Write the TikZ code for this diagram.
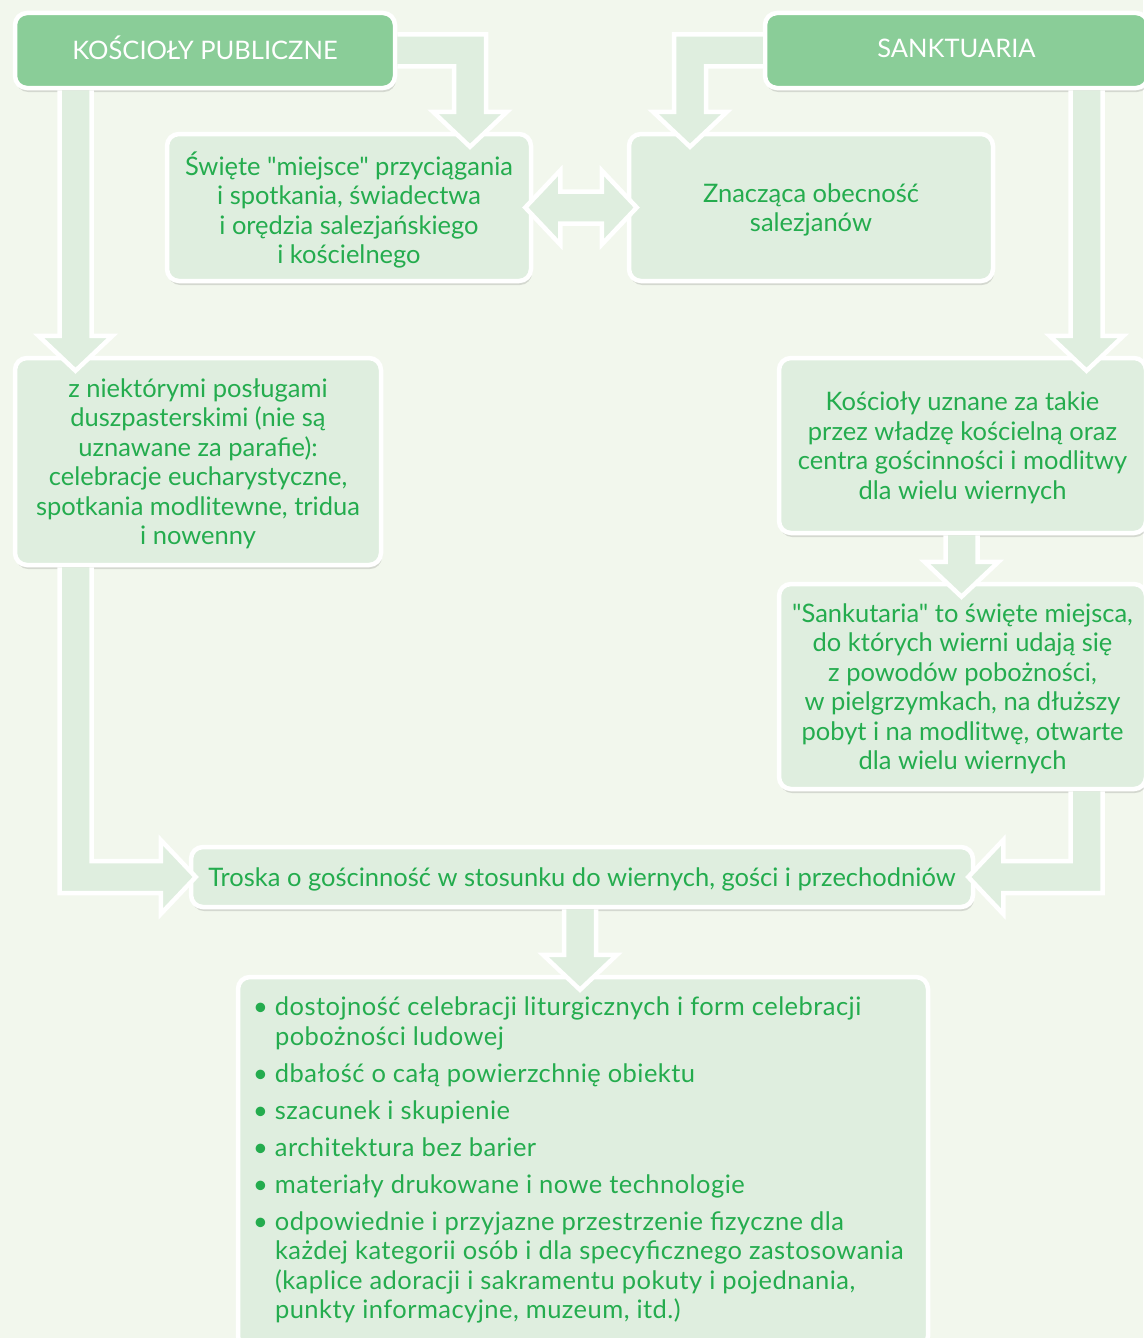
\documentclass[tikz,border=0pt]{standalone}
\usepackage{fontspec}
\setmainfont{Lato}[Ligatures=TeXOff]
\usetikzlibrary{calc,shadows}

\definecolor{bggreen}{RGB}{242,247,237}
\definecolor{boxgreen}{RGB}{223,238,223}
\definecolor{headgreen}{RGB}{138,205,152}
\definecolor{textgreen}{RGB}{36,172,78}

% bullet of the list
\newcommand{\li}{\makebox[16pt][l]{\hspace*{-6pt}\textbullet}}

\begin{document}
\begin{tikzpicture}
[x=1pt,y=-1pt,
  every node/.style={font=\fontsize{25.5}{29.5}\selectfont},
  plain box/.style={rectangle,rounded corners=12pt,draw=white,line width=4.5pt,fill=boxgreen,
    text=textgreen,align=center,inner sep=0pt,
    drop shadow={opacity=0.12,shadow xshift=1pt,shadow yshift=-4pt,fill=black}},
  box node/.style={plain box,text depth=-4pt},
  head node/.style={plain box,fill=headgreen,text=white,text depth=5pt},
  list node/.style={plain box,align=left,text depth=9pt,
    font=\fontsize{25.5}{29.5}\selectfont\addfontfeature{LetterSpace=1.8}},
  block arrow/.style={fill=boxgreen,draw=white,line width=4.5pt,line join=miter}]

  \path[use as bounding box,fill=bggreen] (0,0) rectangle (1143,1338);

  \node [head node,minimum width=380pt,minimum height=75pt] (hPub) at (205,50.5) {KOŚCIOŁY PUBLICZNE};
  \node [head node,minimum width=383pt,minimum height=75pt] (hSan) at (956.5,50.5) {SANKTUARIA};
  \node [box node,minimum width=364pt,minimum height=147pt] (aHoly) at (349,207.5)
    {Święte "miejsce" przyciągania\\ i spotkania, świadectwa\\ i orędzia salezjańskiego\\ i kościelnego};
  \node [box node,minimum width=364pt,minimum height=147pt] (bSal) at (811,207.5)
    {Znacząca obecność\\ salezjanów};
  \node [box node,minimum width=366pt,minimum height=207pt] (cPub) at (198,461.5)
    {z niektórymi posługami\\ duszpasterskimi (nie są\\ uznawane za parafie):\\ celebracje eucharystyczne,\\ spotkania modlitewne, tridua\\ i nowenny};
  \node [box node,minimum width=367pt,minimum height=175pt] (dSan) at (962.5,445.5)
    {Kościoły uznane za takie\\ przez władzę kościelną oraz\\ centra gościnności i modlitwy\\ dla wielu wiernych};
  \node [box node,minimum width=367pt,minimum height=205pt] (eSan) at (962.5,686.5)
    {"Sankutaria" to święte miejsca,\\ do których wierni udają się\\ z powodów pobożności,\\ w pielgrzymkach, na dłuższy\\ pobyt i na modlitwę, otwarte\\ dla wielu wiernych};
  \node [box node,minimum width=782pt,minimum height=60pt] (fCare) at (582,877)
    {Troska o gościnność w stosunku do wiernych, gości i przechodniów};
  \node [list node,minimum width=690pt,minimum height=371pt] (gList) at (583,1162.5)
    {\makebox[648pt][l]{\li dostojność celebracji liturgicznych i form celebracji}\\ \hspace*{16pt}pobożności ludowej\\[7.5pt]
     \li dbałość o całą powierzchnię obiektu\\[7.5pt]
     \li szacunek i skupienie\\[7.5pt]
     \li architektura bez barier\\[7.5pt]
     \li materiały drukowane i nowe technologie\\[7.5pt]
     \li odpowiednie i przyjazne przestrzenie fizyczne dla\\ \hspace*{16pt}każdej kategorii osób i dla specyficznego zastosowania\\
     \hspace*{16pt}(kaplice adoracji i sakramentu pokuty i pojednania,\\ \hspace*{16pt}punkty informacyjne, muzeum, itd.)};

  % straight arrows downwards
  \foreach \from/\to/\xpos in {hPub/cPub/75.5,hSan/dSan/1086.5,dSan/eSan/961.5,fCare/gList/580}
    \filldraw [block arrow] let \p1=(\from.south), \p2=(\to.north) in
      (\xpos pt-16pt,\y1) -- (\xpos pt-16pt,\y2+20pt) -- (\xpos pt-37pt,\y2+20pt) -- (\xpos pt,\y2-15pt)
      -- (\xpos pt+37pt,\y2+20pt) -- (\xpos pt+16pt,\y2+20pt) -- (\xpos pt+16pt,\y1);

  % from the headers sideways, then down
  \foreach \from/\to/\xpos/\sgn in {hPub.east/aHoly/470/1,hSan.west/bSal/690/-1}
    \filldraw [block arrow] let \p1=(\from), \p2=(\to.north) in
      (\x1,\y1+16pt) -- ({\xpos pt+(\sgn)*16pt},\y1+16pt) -- ({\xpos pt+(\sgn)*16pt},\y2+20pt)
      -- ({\xpos pt+(\sgn)*37pt},\y2+20pt) -- (\xpos pt,\y2-15pt) -- ({\xpos pt-(\sgn)*37pt},\y2+20pt)
      -- ({\xpos pt-(\sgn)*16pt},\y2+20pt) -- ({\xpos pt-(\sgn)*16pt},\y1-16pt) -- (\x1,\y1-16pt);

  % down, then sideways into the care box
  \foreach \from/\to/\xpos/\sgn in {cPub/fCare.west/75.5/1,eSan/fCare.east/1086.5/-1}
    \filldraw [block arrow] let \p1=(\from.south), \p2=(\to) in
      ({\xpos pt-(\sgn)*16pt},\y1) -- ({\xpos pt-(\sgn)*16pt},\y2-16pt) -- ({\x2-(\sgn)*28pt},\y2-16pt)
      -- ({\x2-(\sgn)*28pt},\y2-37pt) -- ({\x2+(\sgn)*7pt},\y2) -- ({\x2-(\sgn)*28pt},\y2+37pt)
      -- ({\x2-(\sgn)*28pt},\y2+16pt) -- ({\xpos pt+(\sgn)*16pt},\y2+16pt) -- ({\xpos pt+(\sgn)*16pt},\y1);

  % both ways
  \filldraw [block arrow] let \p1=(aHoly.east), \p2=(bSal.west) in
    (\x1-8pt,\y1) -- (\x1+27pt,\y1+37pt) -- (\x1+27pt,\y1+16pt) -- (\x2-25pt,\y1+16pt) -- (\x2-25pt,\y1+37pt)
    -- (\x2+10pt,\y1) -- (\x2-25pt,\y1-37pt) -- (\x2-25pt,\y1-16pt) -- (\x1+27pt,\y1-16pt) -- (\x1+27pt,\y1-37pt) -- cycle;

\end{tikzpicture}
\end{document}
